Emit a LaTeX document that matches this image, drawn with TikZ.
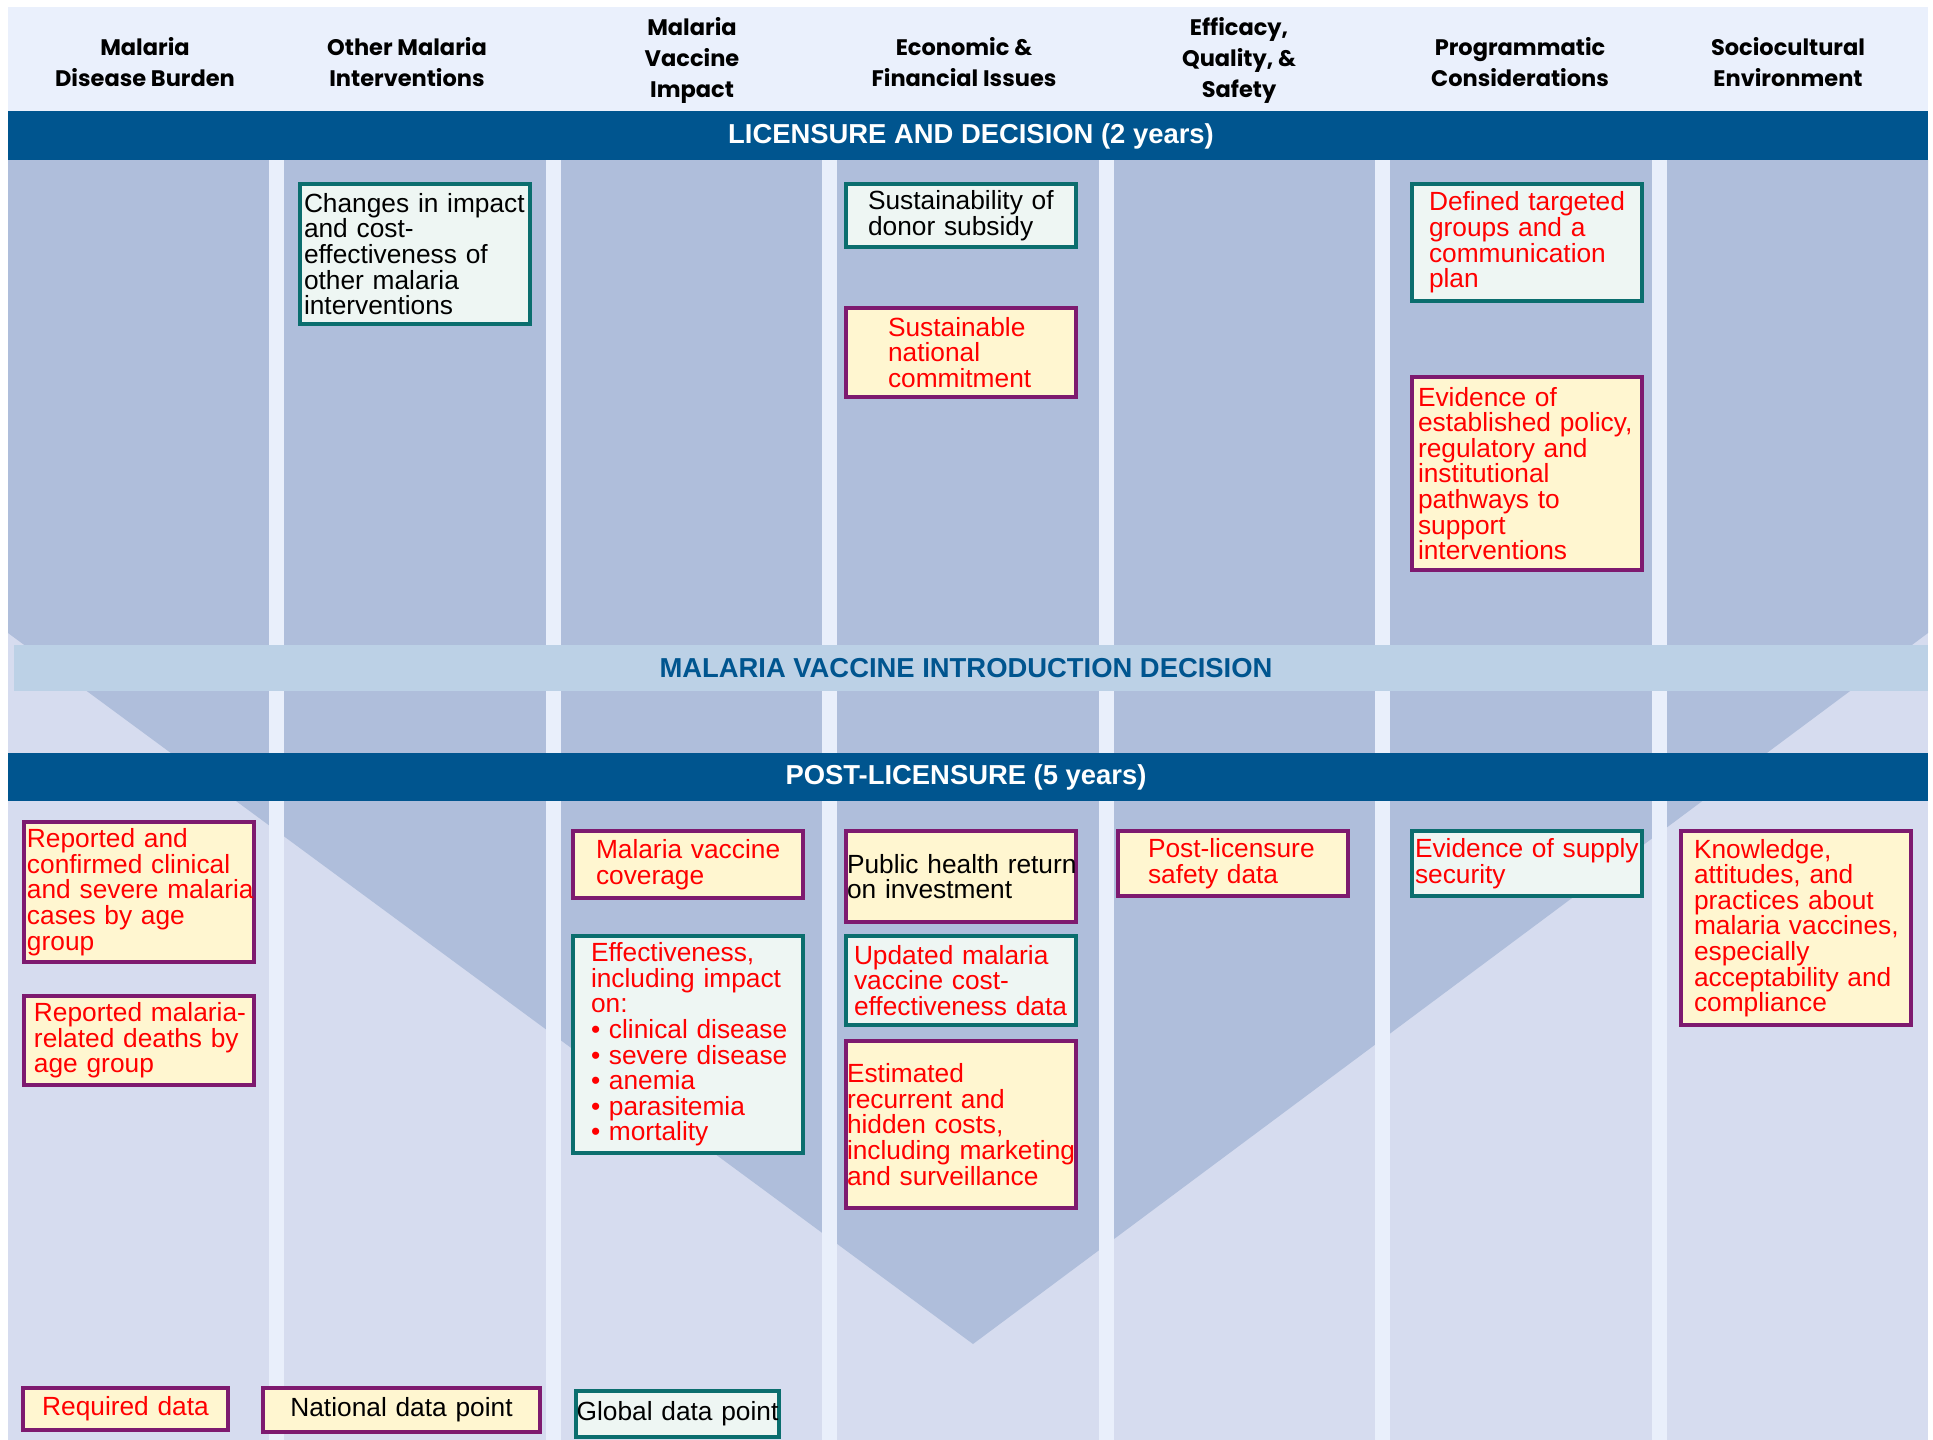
\documentclass[tikz,border=0pt]{standalone}
\usepackage{fontspec}
\setmainfont{Liberation Sans}
\newfontfamily\hdfont{Poppins}
\usetikzlibrary{calc}

\definecolor{hdrbg}{HTML}{EAF0FC}
\definecolor{colbg}{HTML}{AFBEDB}
\definecolor{lowbg}{HTML}{D6DCEF}
\definecolor{sepbg}{HTML}{E9EFFB}
\definecolor{introbg}{HTML}{BCD1E6}
\definecolor{banddark}{HTML}{00558F}
\definecolor{natpurple}{HTML}{7E1A6F}
\definecolor{natcream}{HTML}{FFF6D0}
\definecolor{gloteal}{HTML}{0B6E6E}
\definecolor{glomint}{HTML}{EEF6F3}
\definecolor{reqred}{HTML}{FF0000}

\begin{document}
\begin{tikzpicture}[x=1pt, y=-1pt]
	\tikzstyle{hdr} = [align=center, font=\hdfont\bfseries\fontsize{22.5}{31}\selectfont]
	\tikzstyle{band} = [font=\bfseries\fontsize{27.4}{30}\selectfont]
	\tikzstyle{databox} = [rectangle, anchor=north west, line width=4pt, inner xsep=-2pt, inner ysep=2pt, text width=234pt, align=left, font=\fontsize{26.3}{25.6}\selectfont]
	\tikzstyle{natbox} = [databox, draw=natpurple, fill=natcream]
	\tikzstyle{globox} = [databox, draw=gloteal, fill=glomint]
	\tikzstyle{req} = [text=reqred]
	\useasboundingbox (0,0) rectangle (1933,1440);
	% background, columns and the V
	\fill[hdrbg] (8,7) rectangle (1928,111);
	\fill[lowbg] (8,160) rectangle (1928,1440);
	\fill[colbg] (8,160) -- (1928,160) -- (1928,633) -- (973,1344) -- (8,633) -- cycle;
	\foreach \sx in {269,545.5,822,1098.5,1375,1651.5}
		\fill[sepbg] (\sx,160) rectangle ++(15,1280);
	\fill[banddark] (8,111) rectangle (1928,160);
	\fill[introbg] (14,645) rectangle (1928,691);
	\fill[banddark] (8,753) rectangle (1928,801);
	% column heads
	\node[hdr](hdrBurden) at (145,62){Malaria\\Disease Burden};
	\node[hdr](hdrOther) at (407,62){Other Malaria\\Interventions};
	\node[hdr](hdrImpact) at (692,60.5){Malaria\\Vaccine\\Impact};
	\node[hdr](hdrEcon) at (964,62){Economic \&\\Financial Issues};
	\node[hdr](hdrSafety) at (1239,60.5){Efficacy,\\Quality, \&\\Safety};
	\node[hdr](hdrProg) at (1520,62){Programmatic\\Considerations};
	\node[hdr](hdrSocio) at (1788,62){Sociocultural\\Environment};
	% bands
	\node[band, text=white](bandLic) at (971,136){LICENSURE AND DECISION (2 years)};
	\node[band, text=banddark](bandIntro) at (966,668){MALARIA VACCINE INTRODUCTION DECISION};
	\node[band, text=white](bandPost) at (966,777){POST-LICENSURE (5 years)};
	% licensure and decision
	\node[globox, minimum height=140pt](boxChanges) at (298,182){\leftskip=6pt Changes in impact\\and cost-\\effectiveness of\\other malaria\\interventions\par};
	\node[globox, minimum height=63pt](boxDonor) at (844,182){\leftskip=24pt Sustainability of\\donor subsidy\par};
	\node[natbox, req, minimum height=89pt](boxCommit) at (844,306){\leftskip=44pt Sustainable\\national\\commitment\par};
	\node[globox, req, minimum height=117pt](boxTarget) at (1410,182){\leftskip=19pt Defined targeted\\groups and a\\communication\\plan\par};
	\node[natbox, req, minimum height=193pt](boxPolicy) at (1410,375){\leftskip=8pt Evidence of\\established policy,\\regulatory and\\institutional\\pathways to\\support\\interventions\par};
	% post-licensure
	\node[natbox, req, minimum height=140pt](boxCases) at (22,820){\leftskip=5pt Reported and\\confirmed clinical\\and severe malaria\\cases by age\\group\par};
	\node[natbox, req, minimum height=89pt](boxDeaths) at (22,994){\leftskip=12pt Reported malaria-\\related deaths by\\age group\par};
	\node[natbox, req, minimum height=67pt](boxCoverage) at (571,829){\leftskip=25pt Malaria vaccine\\coverage\par};
	\node[globox, req, minimum height=217pt](boxEffect) at (571,934){\leftskip=20pt Effectiveness,\\including impact\\on:\\• clinical disease\\• severe disease\\• anemia\\• parasitemia\\• mortality\par};
	\node[natbox, minimum height=91pt](boxReturn) at (844,829){\leftskip=3pt Public health return\\on investment\par};
	\node[globox, req, minimum height=89pt](boxCostEff) at (844,934){\leftskip=10pt Updated malaria\\vaccine cost-\\effectiveness data\par};
	\node[natbox, req, minimum height=167pt](boxHidden) at (844,1039){\leftskip=3pt Estimated\\recurrent and\\hidden costs,\\including marketing\\and surveillance\par};
	\node[natbox, req, minimum height=65pt](boxSafety) at (1116,829){\leftskip=32pt Post-licensure\\safety data\par};
	\node[globox, req, minimum height=65pt](boxSupply) at (1410,829){\leftskip=5pt Evidence of supply\\security\par};
	\node[natbox, req, minimum height=194pt](boxKAP) at (1679,829){\leftskip=15pt Knowledge,\\attitudes, and\\practices about\\malaria vaccines,\\especially\\acceptability and\\compliance\par};
	% key
	\node[natbox, req, align=center, text width=209pt, minimum height=42pt](keyRequired) at (21,1386){Required data};
	\node[natbox, align=center, text width=281pt, minimum height=44pt](keyNational) at (261,1386){National data point};
	\node[globox, align=center, text width=207pt, minimum height=46pt](keyGlobal) at (574,1389){Global data point};
\end{tikzpicture}
\end{document}
